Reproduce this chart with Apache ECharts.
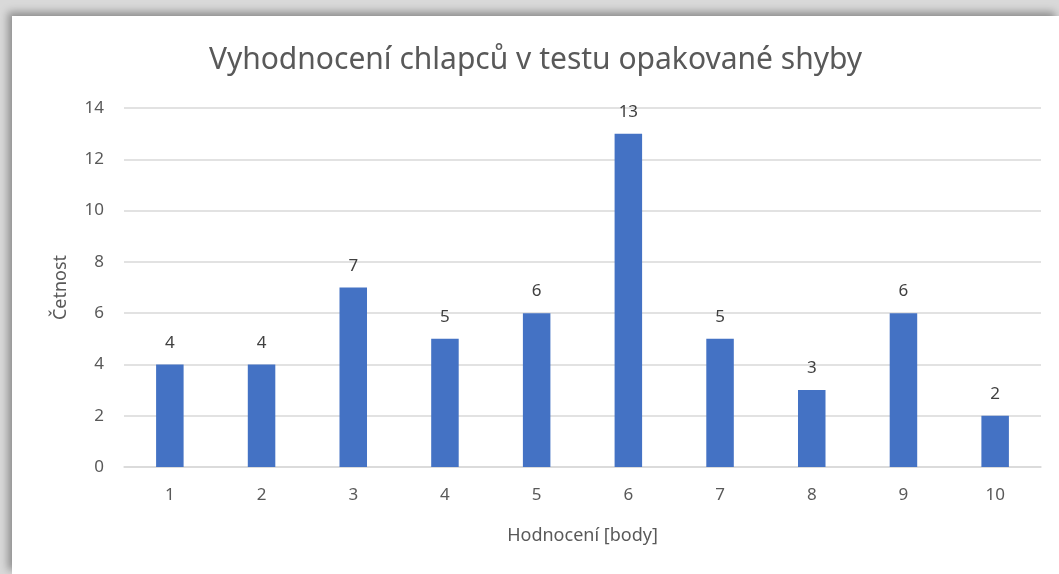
<!DOCTYPE html>
<html>
<head>
<meta charset="utf-8">
<script src="https://cdn.jsdelivr.net/npm/echarts@6/dist/echarts.min.js"></script>
<style>
  html, body { margin: 0; padding: 0; width: 1059px; height: 574px; overflow: hidden; background: #d9d9d9; }
  #frame { position: absolute; left: 12px; top: 16px; width: 1047px; height: 558px; background: #fff;
           box-shadow: -4px -4px 8px rgba(0,0,0,0.35); }
  #chart { width: 100%; height: 100%; }
</style>
</head>
<body>
<div id="frame"><div id="chart"></div></div>
<script>
const categories = ['1', '2', '3', '4', '5', '6', '7', '8', '9', '10'];
const counts = [4, 4, 7, 5, 6, 13, 5, 3, 6, 2];

const chart = echarts.init(document.getElementById('chart'));
const font = '"Noto Sans", "Open Sans", sans-serif';

chart.setOption({
  animation: false,
  textStyle: { fontFamily: font },
  title: {
    text: 'Vyhodnocení chlapců v testu opakované shyby',
    left: 'center',
    top: 24,
    textStyle: { fontFamily: font, fontSize: 30, fontWeight: 'normal', color: '#595959' }
  },
  grid: { left: 112, right: 18, top: 92, bottom: 107 },
  xAxis: {
    type: 'category',
    data: categories,
    name: 'Hodnocení [body]',
    nameLocation: 'middle',
    nameGap: 60,
    nameTextStyle: { fontFamily: font, fontSize: 18, color: '#595959' },
    axisLine: { lineStyle: { color: '#d9d9d9', width: 1.5 } },
    axisTick: { show: false },
    axisLabel: { fontSize: 17, color: '#595959', margin: 20 }
  },
  yAxis: {
    type: 'value',
    min: 0,
    max: 14,
    interval: 2,
    name: 'Četnost',
    nameLocation: 'middle',
    nameGap: 54,
    nameTextStyle: { fontFamily: font, fontSize: 18, color: '#595959' },
    axisLine: { show: false },
    axisTick: { show: false },
    axisLabel: { fontSize: 17, color: '#595959', margin: 20 },
    splitLine: { lineStyle: { color: '#d9d9d9', width: 1.5 } }
  },
  series: [{
    type: 'bar',
    data: counts,
    barWidth: '30%',
    itemStyle: { color: '#4472C4' },
    label: { show: true, position: 'top', distance: 13, fontSize: 17, color: '#404040' }
  }]
});
</script>
</body>
</html>
